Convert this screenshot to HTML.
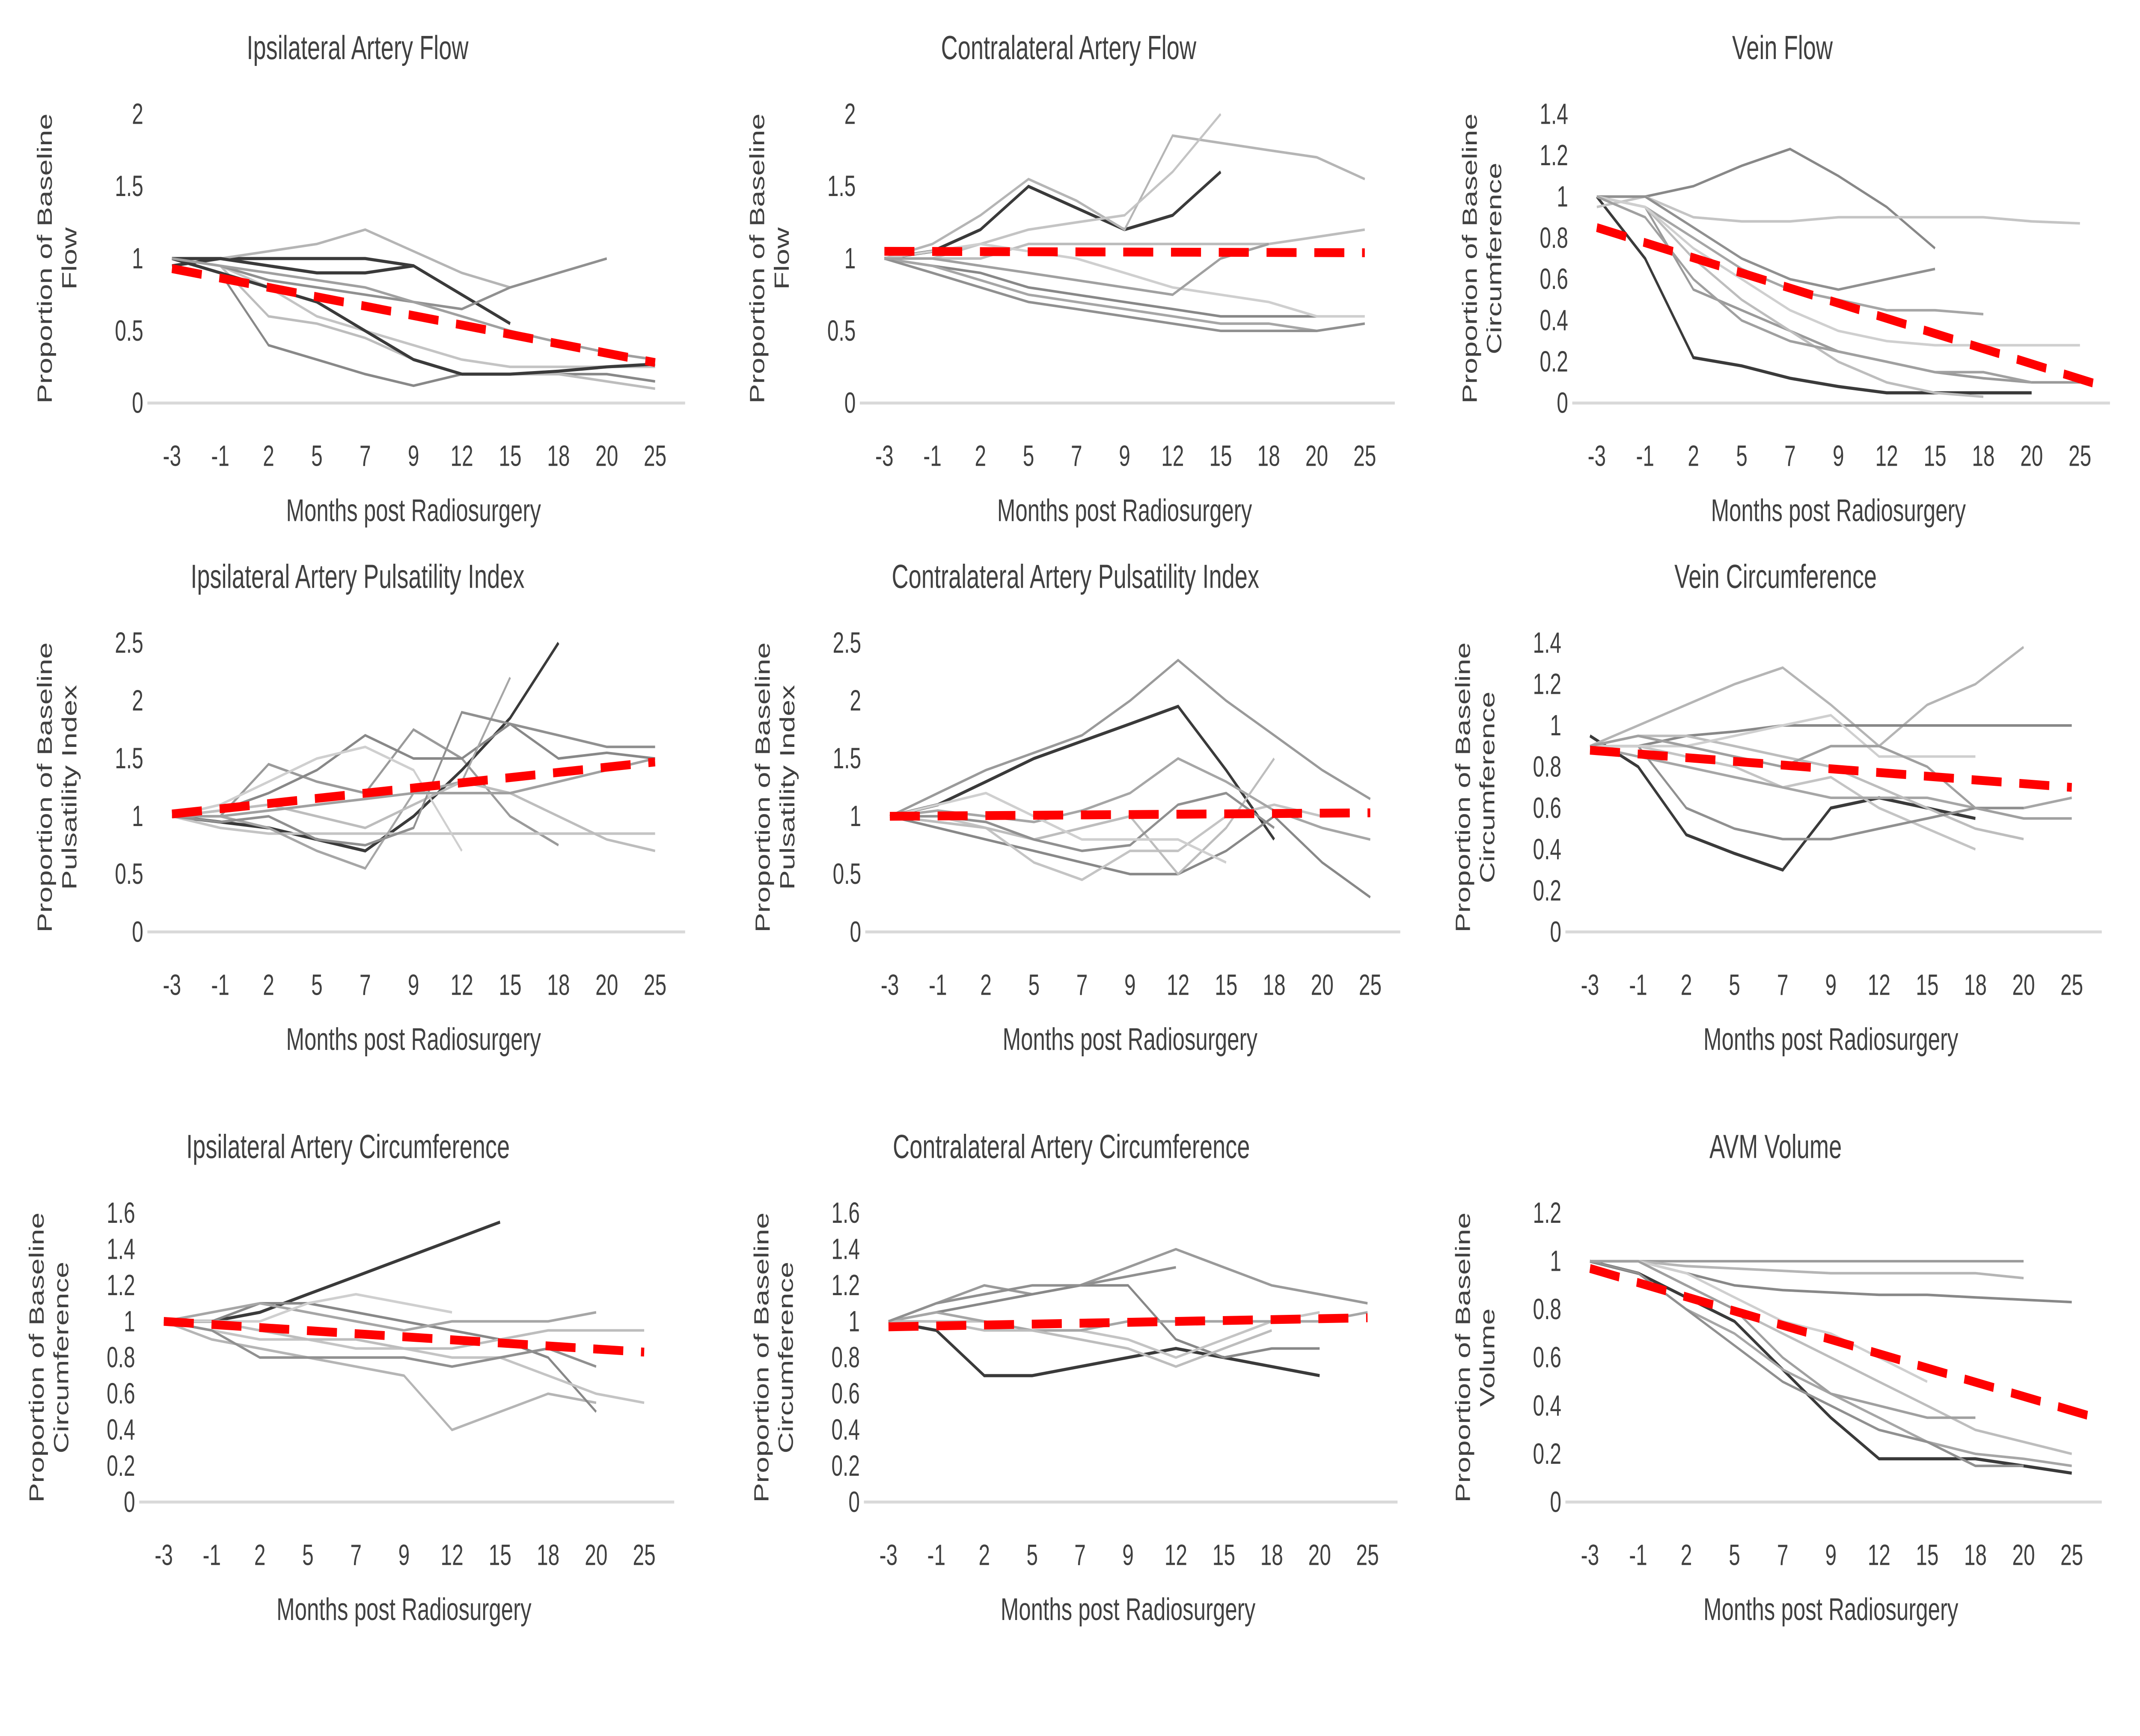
<!DOCTYPE html>
<html><head><meta charset="utf-8">
<style>
html,body{margin:0;padding:0;background:#fff;overflow:hidden;width:100vw;height:100vh;}
svg{display:block;width:100vw;height:100vh;}
text{font-family:"Liberation Sans",sans-serif;fill:#404040;}
</style></head>
<body>
<svg id="fig" viewBox="0 0 1568 883" preserveAspectRatio="none" xmlns="http://www.w3.org/2000/svg"></svg>
<script>
const xCategories = ["-3","-1","2","5","7","9","12","15","18","20","25"];

const p1Series = [
[0.95,1,1,1,1,0.95,null],
[1,1,1.05,1.1,1.2,1.05,0.9,0.8],
[1,0.9,0.4,0.3,0.2,0.12,0.2,0.2,0.2,0.2,0.15],
[1,0.95,0.8,0.6,0.5,0.4,0.3,0.25,0.25,0.25,0.25],
[1,1,0.95,0.9,0.9,0.95,0.75,0.55],
[1,0.95,0.6,0.55,0.45,0.3,0.2,0.2,0.2,0.15,0.1],
[1,0.95,0.85,0.8,0.75,0.7,0.65,0.8,0.9,1.0],
[1,0.9,0.8,0.7,0.5,0.3,0.2,0.2,0.22,0.25,0.27],
[1,0.95,0.9,0.85,0.8,0.7,0.6,0.5,0.42,0.35,0.3]];
const p1Dark = [0,7,4];
const p1Trend = [0.93,0.28];

const p2Series = [
[1,1.05,1.2,1.5,1.35,1.2,1.3,1.6],
[1,1.1,1.3,1.55,1.4,1.2,1.85,1.8,1.75,1.7,1.55],
[1,0.95,0.9,0.8,0.75,0.7,0.65,0.6,0.6,0.6],
[1,1,1.1,1.2,1.25,1.3,1.6,2.0],
[1,0.95,0.85,0.75,0.7,0.65,0.6,0.55,0.55,0.5],
[1,1,1,1.1,1.1,1.1,1.1,1.1,1.1,1.15,1.2],
[1,0.9,0.8,0.7,0.65,0.6,0.55,0.5,0.5,0.5,0.55],
[1,1.05,1.1,1.05,1,0.9,0.8,0.75,0.7,0.6,0.6],
[1,1,0.95,0.9,0.85,0.8,0.75,1.0,1.1]];
const p2Dark = [0];
const p2Trend = [1.05,1.04];

const p3Series = [
[1,0.95,0.55,0.45,0.35,0.25,0.2,0.15,0.12,0.1,0.1],
[1,0.7,0.22,0.18,0.12,0.08,0.05,0.05,0.05,0.05],
[1,1,1.05,1.15,1.23,1.1,0.95,0.75],
[0.95,1,0.9,0.88,0.88,0.9,0.9,0.9,0.9,0.88,0.87],
[1,0.95,0.8,0.65,0.55,0.5,0.45,0.45,0.43],
[1,0.95,0.7,0.5,0.35,0.2,0.1,0.05,0.03],
[1,1,0.85,0.7,0.6,0.55,0.6,0.65],
[1,0.95,0.75,0.6,0.45,0.35,0.3,0.28,0.28,0.28,0.28],
[1,0.9,0.6,0.4,0.3,0.25,0.2,0.15,0.15,0.1]];
const p3Dark = [1];
const p3Trend = [0.85,0.08];

const p4Series = [
[1,1,1.45,1.3,1.2,1.75,1.5,1.0,0.75],
[1,0.95,0.9,0.8,0.7,1.0,1.4,1.85,2.5],
[1,1.05,1.2,1.4,1.7,1.5,1.5,1.8,1.5,1.55,1.5],
[1,0.9,0.85,0.85,0.85,0.85,0.85,0.85,0.85,0.85,0.85],
[1,1,0.9,0.7,0.55,1.2,1.3,2.2],
[1,1.05,1.1,1.0,0.9,1.1,1.3,1.2,1.0,0.8,0.7],
[1,0.95,1.0,0.8,0.75,0.9,1.9,1.8,1.7,1.6,1.6],
[1,1.1,1.3,1.5,1.6,1.4,0.7],
[1,1,1.05,1.1,1.15,1.2,1.2,1.2,1.3,1.4,1.5]];
const p4Dark = [1];
const p4Trend = [1.02,1.47];

const p5Series = [
[1,1.2,1.4,1.55,1.7,2.0,2.35,2.0,1.7,1.4,1.15],
[1,1.1,1.3,1.5,1.65,1.8,1.95,1.4,0.8],
[1,0.9,0.8,0.7,0.6,0.5,0.5,0.7,1.0,0.6,0.3],
[1,1,0.9,0.6,0.45,0.7,0.7,1.0,1.1,1.0],
[1,1.05,1.0,0.95,1.05,1.2,1.5,1.3,1.05,0.9,0.8],
[1,0.95,0.9,0.8,0.9,1.0,0.5,0.9,1.5],
[1,1,0.95,0.8,0.7,0.75,1.1,1.2,0.9],
[1,1.1,1.2,1.0,0.8,0.8,0.8,0.6]];
const p5Dark = [1];
const p5Trend = [1.0,1.03];

const p6Series = [
[0.95,0.8,0.47,0.38,0.3,0.6,0.65,0.6,0.55],
[0.9,1.0,1.1,1.2,1.28,1.1,0.9,1.1,1.2,1.38],
[0.9,0.9,0.95,0.97,1.0,1.0,1.0,1.0,1.0,1.0,1.0],
[0.9,0.9,0.85,0.8,0.7,0.75,0.6,0.5,0.4],
[0.9,0.85,0.8,0.75,0.7,0.65,0.65,0.65,0.6,0.6,0.65],
[0.9,0.95,0.95,0.9,0.85,0.8,0.7,0.6,0.5,0.45],
[0.9,0.9,0.6,0.5,0.45,0.45,0.5,0.55,0.6,0.6],
[0.9,0.9,0.9,0.95,1.0,1.05,0.85,0.85,0.85],
[0.9,0.95,0.9,0.85,0.8,0.9,0.9,0.8,0.6,0.55,0.55]];
const p6Dark = [0];
const p6Trend = [0.88,0.7];

const p7Series = [
[1,1,1.05,1.15,1.25,1.35,1.45,1.55],
[1,0.9,0.85,0.8,0.75,0.7,0.4,0.5,0.6,0.55],
[1,1,1.1,1.1,1.05,1.0,0.95,0.9,0.8,0.5],
[1,0.95,0.9,0.9,0.85,0.85,0.8,0.8,0.7,0.6,0.55],
[1,1.05,1.1,1.05,1.0,0.95,1.0,1.0,1.0,1.05],
[1,1,0.95,0.9,0.9,0.85,0.85,0.9,0.95,0.95,0.95],
[1,0.95,0.8,0.8,0.8,0.8,0.75,0.8,0.85,0.75],
[1,1,1.0,1.1,1.15,1.1,1.05]];
const p7Dark = [0];
const p7Trend = [1.0,0.83];

const p8Series = [
[1,1.1,1.2,1.15,1.2,1.3,1.4,1.3,1.2,1.15,1.1],
[1,0.95,0.7,0.7,0.75,0.8,0.85,0.8,0.75,0.7],
[1,1.05,1.1,1.15,1.2,1.2,0.9,0.8,0.85,0.85],
[1,1,1.0,0.95,0.95,0.9,0.8,0.9,1.0,1.05],
[1,1.05,1.0,0.95,0.95,1.0,1.0,1.0,1.0,1.0,1.05],
[1,1.0,0.95,0.95,0.9,0.85,0.75,0.85,0.95],
[1,1.1,1.15,1.2,1.2,1.25,1.3]];
const p8Dark = [1];
const p8Trend = [0.97,1.02];

const p9Series = [
[1,1,1,1,1,1,1,1,1,1],
[1,1,0.98,0.97,0.96,0.95,0.95,0.95,0.95,0.93],
[1,1,0.95,0.9,0.88,0.87,0.86,0.86,0.85,0.84,0.83],
[1,0.95,0.85,0.75,0.55,0.35,0.18,0.18,0.18,0.15,0.12],
[1,0.95,0.8,0.7,0.55,0.45,0.35,0.25,0.2,0.18,0.15],
[1,1,0.9,0.8,0.7,0.6,0.5,0.4,0.3,0.25,0.2],
[1,0.95,0.8,0.65,0.5,0.4,0.3,0.25,0.15,0.15],
[1,1,0.95,0.85,0.75,0.7,0.6,0.5],
[1,1,0.9,0.8,0.6,0.45,0.4,0.35,0.35]];
const p9Dark = [3];
const p9Trend = [0.97,0.35];

const yTicks1 = ["0","0.5","1","1.5","2"];
const yTicks2 = ["0","0.2","0.4","0.6","0.8","1","1.2","1.4"];
const yTicks3 = ["0","0.5","1","1.5","2","2.5"];
const yTicks4 = ["0","0.2","0.4","0.6","0.8","1","1.2","1.4","1.6"];
const yTicks5 = ["0","0.2","0.4","0.6","0.8","1","1.2"];

const NS="http://www.w3.org/2000/svg";
const svg=document.getElementById('fig');
function mk(tag,attrs,parent){const e=document.createElementNS(NS,tag);for(const k in attrs)e.setAttribute(k,attrs[k]);(parent||svg).appendChild(e);return e;}
const grays=["#9a9a9a","#b5b5b5","#888","#c4c4c4","#a6a6a6","#bdbdbd","#909090","#cfcfcf","#a0a0a0"];

function panel(o){
  const g=mk('g',{});
  
  
  const yMax=+o.ticks[o.ticks.length-1];
  const x=i=>o.x0+i*(o.x1-o.x0)/10;
  const y=v=>o.yb-(v/yMax)*(o.yb-o.yt);
  const t=mk('text',{x:o.tx,y:o.ty,'font-size':17,'text-anchor':'middle'},g);
  t.textContent=o.title;
  
  
  o.ticks.forEach(tk=>{
    const e=mk('text',{x:o.x0-21,y:y(+tk)+5,'font-size':15,'text-anchor':'end'},g);
    e.textContent=tk;
    
    
  });
  const ax=mk('line',{x1:o.x0-18,x2:o.x1+22,y1:o.yb,y2:o.yb,stroke:'#d9d9d9','stroke-width':1.5},g);
  
  
  xCategories.forEach((c,i)=>{
    const e=mk('text',{x:x(i),y:o.yb+32,'font-size':15,'text-anchor':'middle'},g);
    e.textContent=c;
    
    
  });
  const xt=mk('text',{x:(o.x0+o.x1)/2,y:o.yb+60,'font-size':16,'text-anchor':'middle'},g);
  xt.textContent="Months post Radiosurgery";
  
  
  const cy=(o.yt+o.yb)/2;
  const yt=mk('text',{transform:`translate(${o.yx},${cy}) rotate(-90)`,'font-size':15,'text-anchor':'middle'},g);
  
  
  const l1=mk('tspan',{x:0,dy:0},yt);l1.textContent="Proportion of Baseline";
  const l2=mk('tspan',{x:0,dy:18},yt);l2.textContent=o.ylab;
  o.series.forEach((s,si)=>{
    let d="";let first=true;
    s.forEach((v,i)=>{if(v==null)return;d+=(first?"M":"L")+x(i).toFixed(1)+","+y(v).toFixed(1);first=false;});
    const dark=o.dark.includes(si);
    const p=mk('path',{d:d,fill:'none',stroke:dark?'#3a3a3a':grays[si%grays.length],'stroke-width':dark?1.6:1.3},g);
    
    
  });
  const te=o.trendEnd||10;
  const tr=mk('line',{x1:x(0),y1:y(o.trend[0]),x2:x(te),y2:y(o.trend[1]),stroke:'#ff0000','stroke-width':4.5,'stroke-dasharray':'22,13'},g);
  
  
}

panel({name:'ipsilateral-artery-flow-chart',title:'Ipsilateral Artery Flow',tx:262,ty:30,x0:126,x1:480,yt:58,yb:205,ticks:yTicks1,series:p1Series,dark:p1Dark,trend:p1Trend,ylab:'Flow',yx:38});
panel({name:'contralateral-artery-flow-chart',title:'Contralateral Artery Flow',tx:783,ty:30,x0:648,x1:1000,yt:58,yb:205,ticks:yTicks1,series:p2Series,dark:p2Dark,trend:p2Trend,ylab:'Flow',yx:560});
panel({name:'vein-flow-chart',title:'Vein Flow',tx:1306,ty:30,x0:1170,x1:1524,yt:58,yb:205,ticks:yTicks2,series:p3Series,dark:p3Dark,trend:p3Trend,trendEnd:10.5,ylab:'Circumference',yx:1082});
panel({name:'ipsilateral-pi-chart',title:'Ipsilateral Artery Pulsatility Index',tx:262,ty:299,x0:126,x1:480,yt:327,yb:474,ticks:yTicks3,series:p4Series,dark:p4Dark,trend:p4Trend,ylab:'Pulsatility Index',yx:38});
panel({name:'contralateral-pi-chart',title:'Contralateral Artery Pulsatility Index',tx:788,ty:299,x0:652,x1:1004,yt:327,yb:474,ticks:yTicks3,series:p5Series,dark:p5Dark,trend:p5Trend,ylab:'Pulsatility Index',yx:564});
panel({name:'vein-circumference-chart',title:'Vein Circumference',tx:1301,ty:299,x0:1165,x1:1518,yt:327,yb:474,ticks:yTicks2,series:p6Series,dark:p6Dark,trend:p6Trend,ylab:'Circumference',yx:1077});
panel({name:'ipsilateral-circumference-chart',title:'Ipsilateral Artery Circumference',tx:255,ty:589,x0:120,x1:472,yt:617,yb:764,ticks:yTicks4,series:p7Series,dark:p7Dark,trend:p7Trend,ylab:'Circumference',yx:32});
panel({name:'contralateral-circumference-chart',title:'Contralateral Artery Circumference',tx:785,ty:589,x0:651,x1:1002,yt:617,yb:764,ticks:yTicks4,series:p8Series,dark:p8Dark,trend:p8Trend,ylab:'Circumference',yx:563});
panel({name:'avm-volume-chart',title:'AVM Volume',tx:1301,ty:589,x0:1165,x1:1518,yt:617,yb:764,ticks:yTicks5,series:p9Series,dark:p9Dark,trend:p9Trend,trendEnd:10.5,ylab:'Volume',yx:1077});
</script>
</body></html>
